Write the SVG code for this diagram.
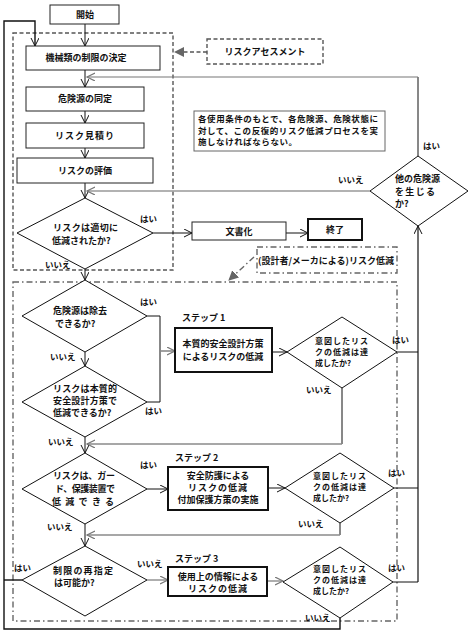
<svg xmlns="http://www.w3.org/2000/svg" width="472" height="635" viewBox="0 0 472 635">
<style>
text{font-family:"Noto Sans CJK JP","Noto Sans CJK SC",sans-serif;font-size:9px;fill:#111;font-weight:bold}
.c{text-anchor:middle}
.lb{font-size:8.5px}
.s8{font-size:8px}
.bx{fill:#fff;stroke:#222;stroke-width:1}
.thick{fill:#fff;stroke:#111;stroke-width:2}
.dm{fill:#fff;stroke:#111;stroke-width:1}
.ln{fill:none;stroke:#111;stroke-width:1}
.gl{fill:none;stroke:#8a8a8a;stroke-width:1.6}
.dash{fill:none;stroke:#555;stroke-width:1.4;stroke-dasharray:4 2.5}
.dd{fill:none;stroke:#666;stroke-width:1.4;stroke-dasharray:6 3 1.5 3}
</style>
<defs>
<marker id="a" markerUnits="userSpaceOnUse" markerWidth="10" markerHeight="10" refX="8" refY="4" orient="auto">
<path d="M0,0 L8,4 L0,8" fill="none" stroke="#111" stroke-width="1"/>
</marker>
<marker id="ag" markerUnits="userSpaceOnUse" markerWidth="10" markerHeight="10" refX="8" refY="4" orient="auto">
<path d="M0,0 L8,4 L0,8" fill="none" stroke="#777" stroke-width="1.2"/>
</marker>
<marker id="f" markerUnits="userSpaceOnUse" markerWidth="12" markerHeight="12" refX="9" refY="5" orient="auto">
<path d="M0,0 L10,5 L0,10 Z" fill="#666"/>
</marker>
</defs>

<g id="frames">
<rect class="dash" x="13" y="33" width="160" height="237"/>
<rect class="dd" x="13" y="282" width="384" height="339"/>
</g>

<g id="connectors">
<path class="ln" d="M85,24 V46" marker-end="url(#a)"/>
<path class="ln" style="stroke-width:1.4" d="M340,618 V629 H4 V21 H35 V46" marker-end="url(#a)"/>
<path class="ln" style="stroke-width:1.4" d="M22,580 H4"/>
<path class="ln" d="M85,70 V87" marker-end="url(#a)"/>
<path class="ln" d="M85,111 V123" marker-end="url(#a)"/>
<path class="ln" d="M85,148 V158" marker-end="url(#a)"/>
<path class="ln" d="M85,183 V198" marker-end="url(#a)"/>
<path class="ln" d="M418,156 V77"/>
<path class="gl" style="stroke:#777;stroke-width:1.2" d="M418,77 H87" marker-end="url(#ag)"/>
<path class="gl" style="stroke:#999;stroke-width:1.4" d="M370,191 H87" marker-end="url(#ag)"/>
<path class="ln" d="M153,233 H192" marker-end="url(#a)"/>
<path class="ln" d="M286,233 H308" marker-end="url(#a)"/>
<path class="dash" d="M207,52 H175" marker-end="url(#f)"/>
<path class="dd" d="M254,257 L229,280" marker-end="url(#f)"/>
<path class="ln" d="M85,269 V280" marker-end="url(#a)"/>
<path class="ln" d="M147,316 H160 V402 H147"/>
<path class="gl" d="M160,351 H175" marker-end="url(#ag)"/>
<path class="ln" d="M272,352 H287" marker-end="url(#a)"/>
<path class="ln" d="M397,352 H418"/>
<path class="ln" d="M342,388 V444"/>
<path class="gl" d="M342,444 H87" marker-end="url(#ag)"/>
<path class="ln" d="M85,352 V366" marker-end="url(#a)"/>
<path class="ln" d="M85,437 V453" marker-end="url(#a)"/>
<path class="ln" d="M147,489 H168" marker-end="url(#a)"/>
<path class="ln" d="M268,488 H285" marker-end="url(#a)"/>
<path class="ln" d="M394,488 H418"/>
<path class="ln" d="M340,523 V535"/>
<path class="gl" d="M340,535 H87" marker-end="url(#ag)"/>
<path class="ln" d="M85,524 V546" marker-end="url(#a)"/>
<path class="gl" style="stroke:#777;stroke-width:1.2" d="M147,580 H168" marker-end="url(#ag)"/>
<path class="gl" style="stroke:#777;stroke-width:1.2" d="M267,581 H283" marker-end="url(#ag)"/>
<path class="ln" d="M393,582 H418"/>
<path class="ln" style="stroke-width:1.2" d="M418,582 V226" marker-end="url(#a)"/>
</g>

<g id="start"><rect class="bx" x="50" y="5" width="69" height="19"/><text class="c" x="85" y="18">開始</text></g>
<g id="limits"><rect class="bx" x="26" y="46" width="134" height="24"/><text class="c" x="86" y="61">機械類の制限の決定</text></g>
<g id="hazard-id"><rect class="bx" x="26" y="87" width="118" height="24"/><text class="c" x="85" y="102">危険源の同定</text></g>
<g id="estimation"><rect class="bx" x="26" y="123" width="118" height="25"/><text class="c" x="85" y="139" letter-spacing="1">リスク見積り</text></g>
<g id="evaluation"><rect class="bx" x="17" y="158" width="136" height="25"/><text class="c" x="85" y="174">リスクの評価</text></g>

<g id="adequate">
<polygon class="dm" points="85,198 153,233 85,269 17,233"/>
<text x="53" y="231" textLength="65" lengthAdjust="spacing">リスクは適切に</text>
<text x="52" y="244">低減されたか?</text>
<text class="lb" x="140" y="222">はい</text>
<text class="lb" x="45" y="268">いいえ</text>
</g>

<g id="doc"><rect class="bx" x="192" y="222" width="94" height="18"/><text class="c" x="239" y="235">文書化</text></g>
<g id="end"><rect class="thick" x="308" y="219" width="54" height="21"/><text class="c" x="335" y="233">終了</text></g>

<g id="ra"><rect class="dash" x="207" y="39" width="116" height="25" style="fill:#fff"/><text class="c" x="265" y="55">リスクアセスメント</text></g>

<g id="note">
<rect class="bx" style="stroke:#666" x="194" y="111" width="191" height="40"/>
<text x="198" y="122" style="font-size:8.5px" textLength="180" lengthAdjust="spacing">各使用条件のもとで、各危険源、危険状態に</text>
<text x="198" y="133.5" style="font-size:8.5px" textLength="180" lengthAdjust="spacing">対して、この反復的リスク低減プロセスを実</text>
<text x="198" y="145" style="font-size:8.5px" textLength="99" lengthAdjust="spacing">施しなければならない。</text>
</g>

<g id="other-hazard">
<polygon class="dm" points="418,156 468,191 418,226 370,191"/>
<text x="395" y="182">他の危険源</text>
<text x="395" y="195" textLength="40" lengthAdjust="spacing">を生じる</text>
<text x="395" y="207">か?</text>
<text class="lb" x="423" y="149">はい</text>
<text class="lb" x="338" y="183">いいえ</text>
</g>

<g id="rr-label"><rect class="dd" x="257" y="247" width="140" height="26" style="fill:#fff"/><text class="c" x="326" y="264">(設計者/メーカによる)リスク低減</text></g>

<g id="remove">
<polygon class="dm" points="85,280 147,316 85,352 22,316"/>
<text x="53" y="314">危険源は除去</text>
<text x="55" y="327">できるか?</text>
<text class="lb" x="140" y="305">はい</text>
<text class="lb" x="50" y="360">いいえ</text>
</g>

<g id="inherent">
<polygon class="dm" points="85,366 147,402 85,437 22,402"/>
<text x="53" y="392" textLength="64" lengthAdjust="spacing">リスクは本質的</text>
<text x="53" y="404" textLength="64" lengthAdjust="spacing">安全設計方策で</text>
<text x="53" y="416">低減できるか?</text>
<text class="lb" x="145" y="414">はい</text>
<text class="lb" x="48" y="445">いいえ</text>
</g>

<g id="step1">
<text x="182" y="321">ステップ 1</text>
<rect class="thick" x="175" y="328" width="97" height="44"/>
<text class="c" x="223" y="347">本質的安全設計方策</text>
<text class="c" x="223" y="360">によるリスクの低減</text>
</g>

<g id="achieved1">
<polygon class="dm" points="342,317 397,352 342,388 287,352"/>
<text class="s8" x="315" y="344" textLength="53" lengthAdjust="spacing">意図したリス</text>
<text class="s8" x="315" y="355" textLength="53" lengthAdjust="spacing">クの低減は達</text>
<text class="s8" x="315" y="366">成したか?</text>
<text class="lb" x="392" y="343">はい</text>
<text class="lb" x="306" y="393">いいえ</text>
</g>

<g id="guard">
<polygon class="dm" points="85,453 147,489 85,524 22,489"/>
<text x="53" y="479" textLength="62" lengthAdjust="spacing">リスクは、ガー</text>
<text x="55" y="492" textLength="60" lengthAdjust="spacing">ド、保護装置で</text>
<text x="52" y="505" textLength="62" lengthAdjust="spacing">低減できる</text>
<text class="lb" x="140" y="468">はい</text>
<text class="lb" x="47" y="530">いいえ</text>
</g>

<g id="step2">
<text x="175" y="461">ステップ 2</text>
<rect class="thick" x="168" y="467" width="100" height="43"/>
<text class="c" x="218" y="479">安全防護による</text>
<text class="c" x="218" y="491" letter-spacing="1">リスクの低減</text>
<text class="c" x="218" y="503">付加保護方策の実施</text>
</g>

<g id="achieved2">
<polygon class="dm" points="340,453 394,488 340,523 285,488"/>
<text class="s8" x="313" y="479" textLength="53" lengthAdjust="spacing">意図したリス</text>
<text class="s8" x="313" y="490" textLength="53" lengthAdjust="spacing">クの低減は達</text>
<text class="s8" x="313" y="501">成したか?</text>
<text class="lb" x="388" y="476">はい</text>
<text class="lb" x="298" y="527">いいえ</text>
</g>

<g id="respec">
<polygon class="dm" points="85,546 147,580 85,616 22,580"/>
<text x="53" y="574" textLength="60" lengthAdjust="spacing">制限の再指定</text>
<text x="54" y="586">は可能か?</text>
<text class="lb" x="14" y="571">はい</text>
<text class="lb" x="137" y="567">いいえ</text>
</g>

<g id="step3">
<text x="175" y="562">ステップ 3</text>
<rect class="thick" x="168" y="567" width="99" height="29"/>
<text class="c" x="218" y="580">使用上の情報による</text>
<text class="c" x="218" y="592" letter-spacing="1">リスクの低減</text>
</g>

<g id="achieved3">
<polygon class="dm" points="340,547 393,582 340,618 283,582"/>
<text class="s8" x="313" y="572" textLength="53" lengthAdjust="spacing">意図したリス</text>
<text class="s8" x="313" y="583" textLength="53" lengthAdjust="spacing">クの低減は達</text>
<text class="s8" x="313" y="594">成したか?</text>
<text class="lb" x="388" y="571">はい</text>
<text class="lb" x="305" y="621">いいえ</text>
</g>
</svg>
